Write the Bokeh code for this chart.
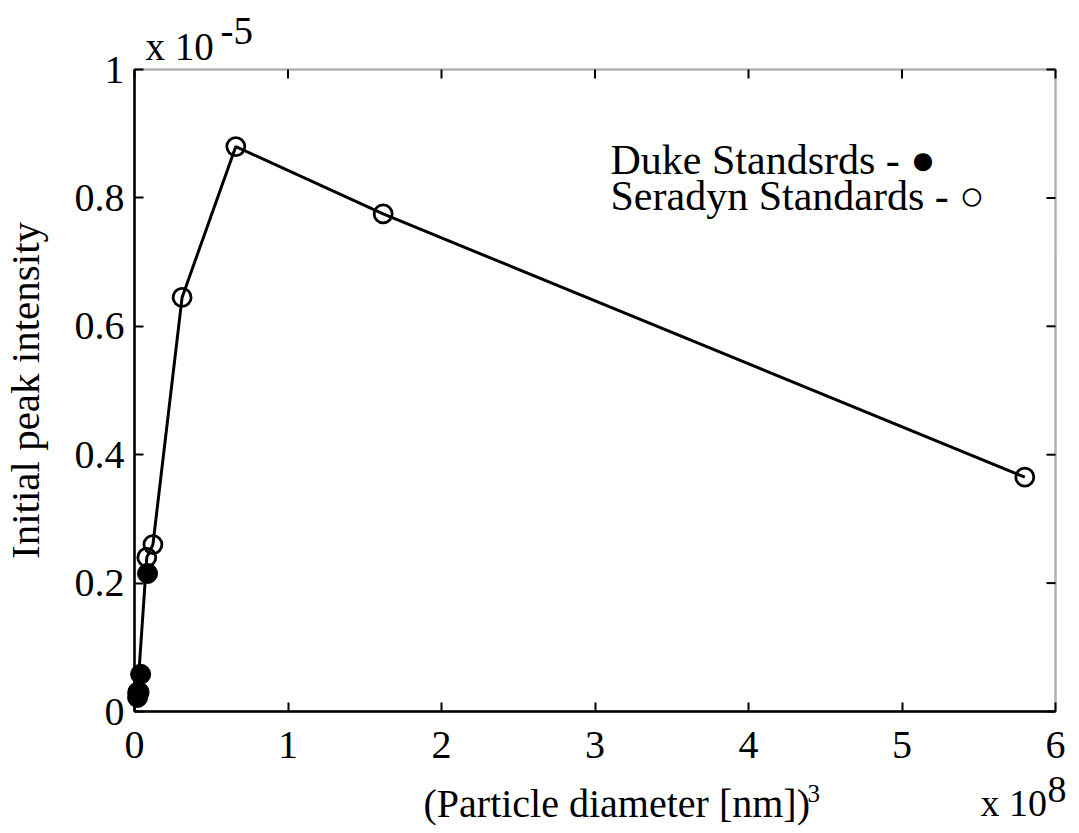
import math
from bokeh.plotting import figure
from bokeh.models import Range1d, FixedTicker, LinearAxis, Label, BoxAnnotation
from bokeh.embed import file_html
from bokeh.resources import INLINE

# Data (x in units of 1e8 nm^3, y in units of 1e-5)
seradyn_x = [0.02, 0.08, 0.12, 0.31, 0.66, 1.62, 5.8]
seradyn_y = [0.03, 0.24, 0.26, 0.645, 0.88, 0.775, 0.365]
duke_x = [0.02, 0.03, 0.04, 0.085]
duke_y = [0.022, 0.03, 0.058, 0.215]

x_ticks = [0, 1, 2, 3, 4, 5, 6]
y_ticks = [0, 0.2, 0.4, 0.6, 0.8, 1]
y_tick_labels = ["0", "0.2", "0.4", "0.6", "0.8", "1"]
X_MIN, X_MAX = 0, 6
Y_MIN, Y_MAX = 0, 1

FONT = "Liberation Serif"

# layout (pixels on the canvas)
W, H = 1071, 825
BOX_L, BOX_R, BOX_T, BOX_B = 134, 1055, 69, 711
sx = (BOX_R - BOX_L) / (X_MAX - X_MIN)
sy = (BOX_B - BOX_T) / (Y_MAX - Y_MIN)
x_range = Range1d(X_MIN - BOX_L / sx, X_MAX + (W - BOX_R) / sx)
y_range = Range1d(Y_MIN - (H - BOX_B) / sy, Y_MAX + BOX_T / sy)

p = figure(width=W, height=H, x_range=x_range, y_range=y_range,
           output_backend="svg", toolbar_location=None,
           x_axis_location=None, y_axis_location=None, min_border=0)
p.xgrid.visible = False
p.ygrid.visible = False
p.outline_line_color = None
p.background_fill_color = "white"
p.border_fill_color = "white"


def style(ax, ticks):
    ax.ticker = FixedTicker(ticks=ticks)
    ax.axis_line_color = "black"
    ax.axis_line_width = 2.5
    ax.major_tick_in = 9
    ax.major_tick_out = 0
    ax.major_tick_line_width = 2
    ax.major_tick_line_color = "black"
    ax.minor_tick_in = 0
    ax.minor_tick_out = 0
    ax.major_label_text_font = FONT
    ax.major_label_text_color = "black"
    ax.major_label_text_font_size = "40px"


bottom = LinearAxis(fixed_location=Y_MIN, bounds=(X_MIN, X_MAX))
style(bottom, x_ticks)
bottom.major_label_standoff = 20
p.add_layout(bottom, "below")

left = LinearAxis(fixed_location=X_MIN, bounds=(Y_MIN, Y_MAX))
style(left, y_ticks)
left.major_label_overrides = {t: s for t, s in zip(y_ticks, y_tick_labels)}
left.major_label_standoff = 10
left.axis_label = "Initial peak intensity"
left.axis_label_text_font = FONT
left.axis_label_text_font_size = "41px"
left.axis_label_text_font_style = "normal"
left.axis_label_text_color = "black"
left.axis_label_standoff = 24
p.add_layout(left, "left")

# box
p.add_layout(BoxAnnotation(left=X_MIN, right=X_MAX, bottom=Y_MIN, top=Y_MAX,
                           fill_alpha=0, line_color="black", line_width=2.5,
                           level="underlay"))
# inward ticks on top and right edges
p.ray(x=x_ticks, y=[Y_MAX] * len(x_ticks), length=9, length_units="screen",
      angle=-math.pi / 2, line_color="black", line_width=2)
p.ray(x=[X_MAX] * len(y_ticks), y=y_ticks, length=9, length_units="screen",
      angle=math.pi, line_color="black", line_width=2)

# Series
p.line(seradyn_x, seradyn_y, line_color="black", line_width=3)
p.scatter(seradyn_x, seradyn_y, marker="circle", size=18, line_color="black",
          line_width=2.8, fill_alpha=0)
p.scatter(duke_x, duke_y, marker="circle", size=20, line_color="black",
          fill_color="black")


def lab(text, x, y_base, size):
    # x, y_base: wanted canvas pixel position of the text baseline start
    adj = 0.3 * size
    p.add_layout(Label(x=x, y=H - (y_base - adj), x_units="screen", y_units="screen",
                       text=text, text_font=FONT, text_font_size=f"{size}px",
                       text_color="black", text_baseline="alphabetic"))


# exponent labels
lab("x 10", 145, 58, 39)
lab("-5", 220, 42, 39)
lab("x 10", 980, 814, 38)
lab("8", 1047, 800, 38)

# x axis label
lab("(Particle diameter [nm])", 423, 815, 40)
lab("3", 807, 800, 25)

# legend texts
lab("Duke Standsrds - \u25cf", 610, 172, 42)
lab("Seradyn Standards - \u25cb", 610, 208, 42)

open("out.html", "w").write(file_html(p, INLINE))
